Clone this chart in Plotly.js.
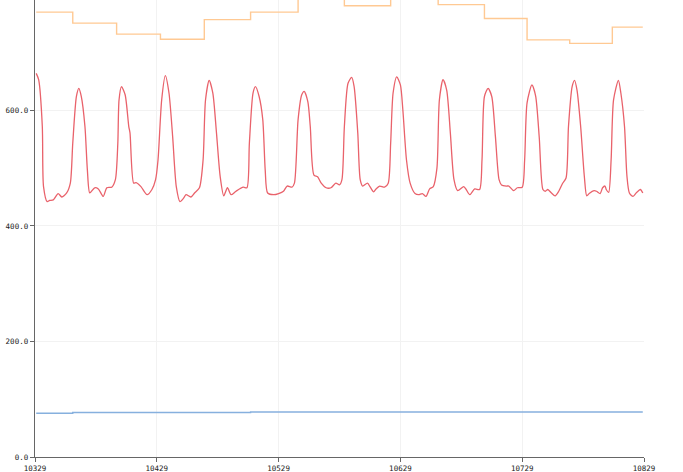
<!DOCTYPE html>
<html>
<head>
<meta charset="utf-8">
<script src="https://cdn.plot.ly/plotly-3.0.1.min.js"></script>
<style>html,body{margin:0;padding:0;background:#fff;}#chart{width:683px;height:472px;}</style>
</head>
<body>
<div id="chart"></div>
<script>
// Red series (pulse waveform)
const redX = [10330,10332,10335,10336,10339,10341,10344,10348,10351,10355,10358,10360,10363,10365,10367,10370,10372,10374,10378,10381,10385,10388,10392,10395,10397,10398,10400,10403,10406,10407,10410,10412,10416,10421,10425,10428,10430,10433,10436,10439,10442,10445,10448,10451,10453,10457,10460,10464,10467,10469,10472,10475,10478,10481,10484,10487,10490,10494,10500,10503,10505,10508,10510,10513,10516,10518,10520,10525,10529,10533,10536,10540,10542,10545,10548,10550,10553,10555,10558,10561,10564,10568,10572,10576,10579,10581,10583,10586,10589,10591,10594,10596,10598,10602,10604,10607,10609,10612,10616,10619,10621,10623,10626,10629,10631,10634,10637,10641,10644,10647,10650,10653,10656,10659,10661,10664,10667,10670,10673,10676,10681,10683,10686,10690,10694,10696,10698,10701,10704,10707,10710,10712,10716,10718,10722,10725,10729,10731,10733,10737,10740,10743,10746,10748,10750,10753,10756,10759,10762,10765,10767,10770,10772,10774,10777,10780,10782,10784,10788,10790,10793,10795,10797,10798,10800,10802,10804,10808,10810,10813,10815,10817,10820,10823,10826,10828];
const redY = [664,653,572,468,442,444,445,456,450,457,474,543,624,638,624,572,497,457,466,464,451,466,467,480,543,618,641,627,572,561,474,475,468,454,463,480,514,618,660,630,555,468,442,448,454,450,457,466,514,618,652,630,561,486,452,466,454,460,467,466,543,630,641,624,584,497,457,454,456,460,469,467,474,584,627,633,615,572,488,485,474,466,466,474,471,480,572,647,657,641,561,480,469,474,468,459,464,469,467,474,543,630,658,644,601,514,474,456,454,456,451,464,468,500,618,653,635,561,480,461,468,463,454,464,463,514,624,638,624,555,480,471,469,469,461,466,467,514,613,644,625,553,463,460,463,457,452,460,473,483,572,641,652,635,572,486,452,456,461,460,456,466,469,463,458,514,618,652,630,572,486,457,451,458,463,457];

// Step series (orange and blue), values change at these x positions
const stepX = [10330,10360,10396,10432,10468,10506,10545,10583,10621,10660,10698,10733,10768,10803,10828];
const orangeY = [770,751,732,723,757,770,805,781,805,783,759,722,716,744,744];
const blueY = [75.7,76.9,76.9,76.9,76.9,77.8,77.8,77.8,77.8,77.8,77.8,77.8,77.8,77.8,77.8];

// Axis ticks
const xTicks = [10329,10429,10529,10629,10729,10829];
const xTickText = ['10329','10429','10529','10629','10729','10829'];
const yTicks = [0,200,400,600];
const yTickText = ['0.0','200.0','400.0','600.0'];

const traces = [
  {x: stepX, y: blueY, type: 'scatter', mode: 'lines', line: {color: '#86b0de', width: 1.4, shape: 'hv'}, hoverinfo: 'skip'},
  {x: stepX, y: orangeY, type: 'scatter', mode: 'lines', line: {color: '#ffc993', width: 1.4, shape: 'hv'}, hoverinfo: 'skip'},
  {x: redX, y: redY, type: 'scatter', mode: 'lines', line: {color: '#e9626b', width: 1.3, shape: 'spline', smoothing: 0.7}, hoverinfo: 'skip'}
];

const tickFont = {family: 'DejaVu Sans Mono, monospace', size: 7.5, color: '#222'};

const layout = {
  width: 683, height: 472,
  margin: {l: 35, r: 39, t: 0, b: 14.5, pad: 0},
  paper_bgcolor: '#ffffff', plot_bgcolor: '#ffffff',
  showlegend: false,
  xaxis: {
    range: [10329, 10829], tickmode: 'array', tickvals: xTicks, ticktext: xTickText,
    showgrid: true, gridcolor: '#f2f2f2', gridwidth: 1, zeroline: false,
    showline: true, linecolor: '#666', linewidth: 1.3,
    ticks: 'outside', ticklen: 4, tickcolor: '#666', tickwidth: 1,
    tickfont: tickFont
  },
  yaxis: {
    range: [0, 791], tickmode: 'array', tickvals: yTicks, ticktext: yTickText,
    showgrid: true, gridcolor: '#f2f2f2', gridwidth: 1, zeroline: false,
    showline: true, linecolor: '#666', linewidth: 1.3,
    ticks: 'outside', ticklen: 4, tickcolor: '#666', tickwidth: 1,
    tickfont: tickFont
  }
};

Plotly.newPlot('chart', traces, layout, {displayModeBar: false, staticPlot: true});
</script>
</body>
</html>
